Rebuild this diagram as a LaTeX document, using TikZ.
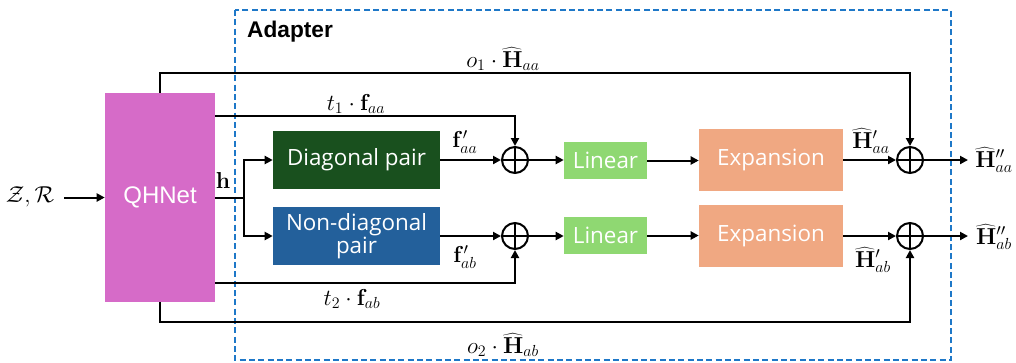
\documentclass[tikz,border=0pt]{standalone}
\usepackage[no-math]{fontspec}
\newfontfamily\arialfont{Liberation Sans}
\newfontfamily\boxfont{Open Sans}
\usetikzlibrary{arrows.meta}
\definecolor{qhcol}{RGB}{214,107,200}
\definecolor{diagcol}{RGB}{25,80,30}
\definecolor{ndcol}{RGB}{35,96,155}
\definecolor{lincol}{RGB}{143,216,114}
\definecolor{expcol}{RGB}{240,168,130}
\definecolor{dashcol}{RGB}{30,120,200}
\tikzset{
  arr/.style={line width=1.5pt,-{Triangle[length=6pt,width=6pt]}},
  ln/.style={line width=1.5pt},
  blk/.style={rectangle,inner sep=0pt,text=white,align=center},
  bfont/.style={font=\boxfont\fontsize{16.8}{19}\selectfont},
  plus/.style={circle,draw,line width=1.5pt,minimum size=19.5pt,inner sep=0pt,
    path picture={\draw[line width=1.5pt] (path picture bounding box.north) -- (path picture bounding box.south)
      (path picture bounding box.west) -- (path picture bounding box.east);}},
  lab/.style={inner sep=0pt,font=\fontsize{18}{20}\selectfont},
}
\begin{document}
\begin{tikzpicture}[x=0.75pt,y=-0.75pt]
\useasboundingbox (0,0) rectangle (1016,362);
% adapter frame
\draw[dashcol,line width=1.1pt,dash pattern=on 4.5pt off 2.5pt] (235,10) rectangle (951,360);
\node[font=\arialfont\bfseries\fontsize{17}{19}\selectfont,inner sep=0pt] (adl) at (290,32) {Adapter};
% blocks
\node[blk,fill=qhcol,minimum width=82.5pt,minimum height=156.75pt,font=\arialfont\fontsize{18}{20}\selectfont] (q) at (160,197.5) {QHNet};
\node[blk,bfont,fill=diagcol,minimum width=125.25pt,minimum height=43.5pt] (d) at (356.5,160) {Diagonal pair};
\node[blk,bfont,fill=ndcol,minimum width=125.25pt,minimum height=43.5pt] (nd) at (356.5,236) {Non-diagonal\\[-2pt]pair};
\node[blk,bfont,fill=lincol,minimum width=62.25pt,minimum height=27.75pt] (l1) at (605.5,160.5) {Linear};
\node[blk,bfont,fill=lincol,minimum width=62.25pt,minimum height=27.75pt] (l2) at (605.5,235.5) {Linear};
\node[blk,bfont,fill=expcol,minimum width=108pt,minimum height=46.5pt] (e1) at (771,160) {Expansion};
\node[blk,bfont,fill=expcol,minimum width=108pt,minimum height=46.5pt] (e2) at (771,236) {Expansion};
\node[plus] (c1) at (515,160) {};
\node[plus] (c2) at (515,236) {};
\node[plus] (c3) at (910,160) {};
\node[plus] (c4) at (910,236) {};
% input / outputs
\node[lab] (in) at (30,197) {$\mathcal{Z},\mathcal{R}$};
\coordinate (ina) at (64,197.5);
\coordinate (oa) at (968,160);
\coordinate (ob) at (968,236);
\node[lab] (outa) at (994,160) {$\widehat{\mathbf{H}}''_{aa}$};
\node[lab] (outb) at (994,237) {$\widehat{\mathbf{H}}''_{ab}$};
% routing points
\coordinate (ot) at (910,73);
\coordinate (obt) at (910,322);
\coordinate (t1c) at (515,116);
\coordinate (t2c) at (515,283);
\coordinate (hs) at (244,198);
% connectors
\draw[arr] (ina) -- (q.west |- ina);
\draw[arr] (q.north) |- (ot) -- (c3.north);
\draw[arr] (q.south) |- (obt) -- (c4.south);
\draw[arr] (q.east |- t1c) -- (t1c) -- (c1.north);
\draw[arr] (q.east |- t2c) -- (t2c) -- (c2.south);
\draw[ln] (q.east |- hs) -- (hs);
\draw[arr] (hs) |- (d.west);
\draw[arr] (hs) |- (nd.west);
\draw[arr] (d.east) -- (c1.west);
\draw[arr] (nd.east) -- (c2.west);
\draw[arr] (c1.east) -- (l1.west |- c1);
\draw[arr] (c2.east) -- (l2.west |- c2);
\draw[arr] (l1.east) -- (e1.west |- l1);
\draw[arr] (l2.east) -- (e2.west |- l2);
\draw[arr] (e1.east) -- (c3.west);
\draw[arr] (e2.east) -- (c4.west);
\draw[arr] (c3.east) -- (oa);
\draw[arr] (c4.east) -- (ob);
% labels
\node[lab] (lo1) at (503,59) {$o_1\cdot\widehat{\mathbf{H}}_{aa}$};
\node[lab] (lt1) at (356,104) {$t_1\cdot\mathbf{f}_{aa}$};
\node[lab] (lh) at (223,180) {$\mathbf{h}$};
\node[lab] (lfa) at (465,142) {$\mathbf{f}'_{aa}$};
\node[lab] (lfb) at (465,257) {$\mathbf{f}'_{ab}$};
\node[lab] (lt2) at (352,299) {$t_2\cdot\mathbf{f}_{ab}$};
\node[lab] (lo2) at (503,345) {$o_2\cdot\widehat{\mathbf{H}}_{ab}$};
\node[lab] (lha) at (871,141) {$\widehat{\mathbf{H}}'_{aa}$};
\node[lab] (lhb) at (873,260) {$\widehat{\mathbf{H}}'_{ab}$};
\end{tikzpicture}
\end{document}
